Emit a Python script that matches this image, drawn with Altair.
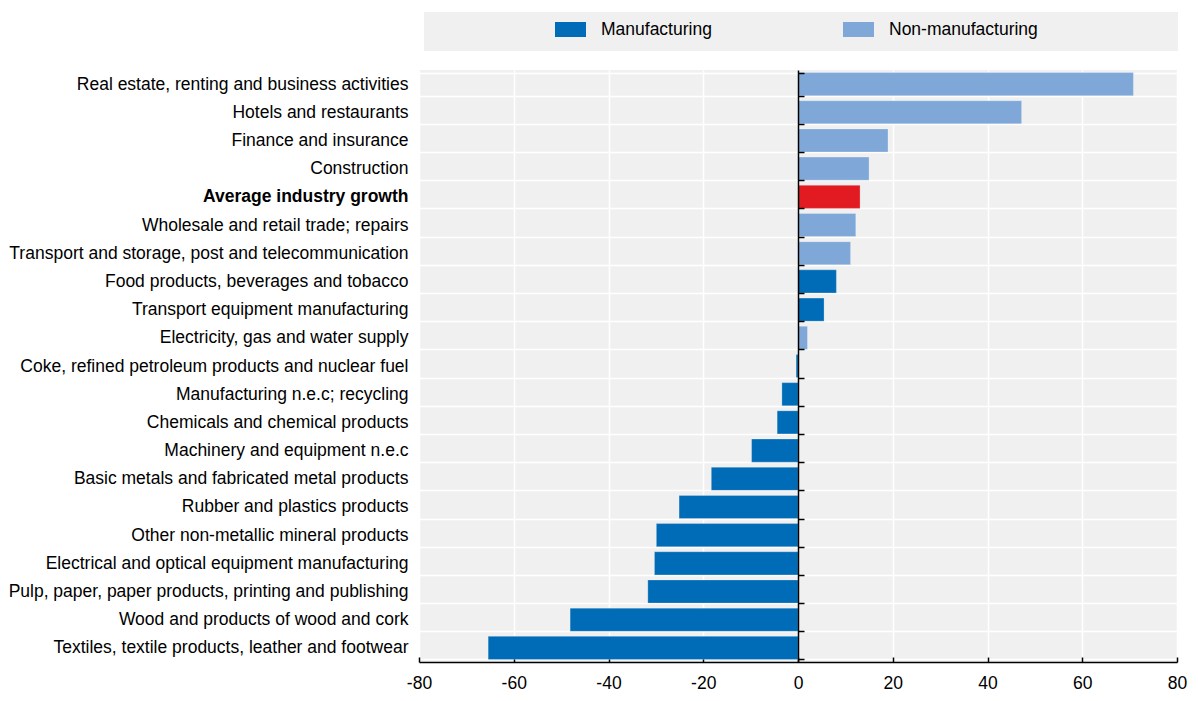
import altair as alt
import pandas as pd

categories = [
    "Real estate, renting and business activities",
    "Hotels and restaurants",
    "Finance and insurance",
    "Construction",
    "Average industry growth",
    "Wholesale and retail trade; repairs",
    "Transport and storage, post and telecommunication",
    "Food products, beverages and tobacco",
    "Transport equipment manufacturing",
    "Electricity, gas and water supply",
    "Coke, refined petroleum products and nuclear fuel",
    "Manufacturing n.e.c; recycling",
    "Chemicals and chemical products",
    "Machinery and equipment n.e.c",
    "Basic metals and fabricated metal products",
    "Rubber and plastics products",
    "Other non-metallic mineral products",
    "Electrical and optical equipment manufacturing",
    "Pulp, paper, paper products, printing and publishing",
    "Wood and products of wood and cork",
    "Textiles, textile products, leather and footwear",
]
values = [70.8, 47.2, 19.0, 15.0, 13.1, 12.2, 11.1, 8.1, 5.5, 2.0, -0.4,
          -3.4, -4.4, -9.8, -18.3, -25.1, -29.9, -30.3, -31.7, -48.1, -65.4]
groups = [
    "Non-manufacturing", "Non-manufacturing", "Non-manufacturing", "Non-manufacturing",
    "Average", "Non-manufacturing", "Non-manufacturing", "Manufacturing",
    "Manufacturing", "Non-manufacturing", "Manufacturing", "Manufacturing",
    "Manufacturing", "Manufacturing", "Manufacturing", "Manufacturing",
    "Manufacturing", "Manufacturing", "Manufacturing", "Manufacturing", "Manufacturing",
]
legend_labels = ["Manufacturing", "Non-manufacturing"]
x_ticks = [-80, -60, -40, -20, 0, 20, 40, 60, 80]

FONT = "Liberation Sans"
FS = 17.5
color_domain = ["Manufacturing", "Non-manufacturing", "Average"]
color_range = ["#006BB6", "#7FA8D9", "#E21B23"]

df = pd.DataFrame({"industry": categories, "value": values, "group": groups})
legend_df = pd.DataFrame({"group": legend_labels})

W, H = 758, 592
BAND_H = 39

x_scale = alt.Scale(domain=[-80, 80], nice=False, zero=True)
y_scale = alt.Scale(paddingInner=0.18, paddingOuter=0.09)

x_axis = alt.Axis(values=x_ticks, domainColor="#000", domainWidth=1.5,
                  tickColor="#000", tickWidth=1.5, tickSize={"expr": "-5"},
                  labelFontSize=FS, labelColor="#000", labelFont=FONT,
                  labelPadding=17, labelFlush=False,
                  labelExpr="toString(datum.value)",
                  grid=True, gridColor="white", gridWidth=1.5)

bars = alt.Chart(df).mark_bar(stroke="white", strokeOpacity=0.25, strokeWidth=1).encode(
    x=alt.X("value:Q", title=None, scale=x_scale, axis=x_axis),
    y=alt.Y("industry:N", sort=categories, title=None, scale=y_scale,
            axis=alt.Axis(orient="left", ticks=False, domain=False,
                          labelFontSize=FS, labelColor="#000", labelFont=FONT,
                          labelPadding=11, labelLimit=600,
                          labelFontWeight={"condition": {"test": "datum.value === 'Average industry growth'", "value": "bold"}, "value": "normal"},
                          grid=True, gridColor="white", gridWidth=1.5, tickBand="extent")),
    color=alt.Color("group:N", scale=alt.Scale(domain=color_domain, range=color_range), legend=None),
)

zero_axis = alt.Chart(df).mark_bar(opacity=0).encode(
    x=alt.X("value:Q", title=None, scale=x_scale, axis=x_axis),
    y=alt.Y("industry:N", sort=categories, title=None, scale=y_scale,
            axis=alt.Axis(orient="right", offset=-W / 2, labels=False,
                          domainColor="#000", domainWidth=1.5,
                          ticks=True, tickColor="#000", tickSize=6, tickWidth=1.5,
                          tickBand="extent", grid=False, zindex=1)),
)

main = alt.layer(bars, zero_axis).resolve_axis(y="independent").properties(width=W, height=H)

band_bg = alt.Chart(legend_df).mark_rect(color="#f0f0f0").encode(
    x=alt.value(5), x2=alt.value(W + 1), y=alt.value(0), y2=alt.value(BAND_H)
)

band_legend = alt.Chart(legend_df).mark_square(opacity=0).encode(
    color=alt.Color("group:N", scale=alt.Scale(domain=color_domain, range=color_range),
                    legend=alt.Legend(title=None, orient="none", legendX=136, legendY=2,
                                      direction="horizontal", values=legend_labels,
                                      symbolType="M-1,-0.484H1V0.484H-1Z", symbolSize=961,
                                      symbolOpacity=1, symbolStrokeWidth=0,
                                      labelFontSize=FS, labelFont=FONT, labelColor="#000",
                                      labelOffset=15, columnPadding=131, padding=0,
                                      labelLimit=300)),
)

band = alt.layer(band_bg, band_legend).properties(width=W, height=BAND_H)

chart = alt.vconcat(band, main, spacing=19, bounds="flush").resolve_scale(
    color="independent"
).resolve_legend(color="independent").properties(
    padding={"top": 4, "left": 0, "right": 0, "bottom": 0}
).configure(font=FONT).configure_view(fill="#f0f0f0", strokeWidth=0)

chart.save("out.html", embed_options={"renderer": "svg", "actions": False})
